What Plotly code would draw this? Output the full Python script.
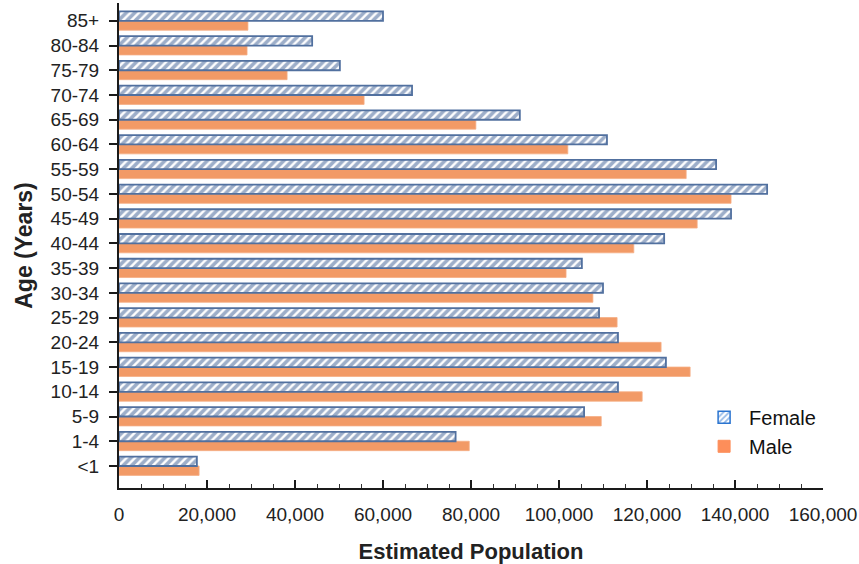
import plotly.graph_objects as go

age_groups = ["<1", "1-4", "5-9", "10-14", "15-19", "20-24", "25-29", "30-34", "35-39",
              "40-44", "45-49", "50-54", "55-59", "60-64", "65-69", "70-74", "75-79", "80-84", "85+"]
female = [17700, 76500, 105700, 113400, 124300, 113400, 109100, 110000, 105200,
          123900, 139100, 147300, 135700, 110900, 91100, 66600, 50200, 43900, 60000]
male = [18200, 79600, 109600, 118900, 129800, 123200, 113200, 107700, 101600,
        117000, 131400, 139100, 128900, 102000, 81100, 55700, 38200, 29100, 29300]
x_ticks = [0, 20000, 40000, 60000, 80000, 100000, 120000, 140000, 160000]

FONT = "Liberation Sans, Arial, sans-serif"

fig = go.Figure()
fig.add_trace(go.Bar(
    y=age_groups, x=male, orientation="h", name="Male", showlegend=False,
    marker=dict(color="#f29a66", line=dict(color="#f5ad84", width=0.8)),
))
fig.add_trace(go.Bar(
    y=age_groups, x=female, orientation="h", name="Female", showlegend=False,
    marker=dict(color="white", line=dict(color="#51709f", width=1.8),
                pattern=dict(shape="/", fgcolor="#3c5e94", bgcolor="white", size=6, solidity=0.6)),
))
# legend entries (on hidden overlay axes)
fig.add_trace(go.Bar(
    y=[age_groups[0]], x=[0], orientation="h", name="Female", xaxis="x2", yaxis="y2",
    legendrank=1, hoverinfo="skip",
    marker=dict(color="white", line=dict(color="#2a74d0", width=1.5),
                pattern=dict(shape="/", fgcolor="#2a74d0", bgcolor="white", size=5, solidity=0.45)),
))
fig.add_trace(go.Bar(
    y=[age_groups[0]], x=[0], orientation="h", name="Male", xaxis="x2", yaxis="y2",
    legendrank=2, hoverinfo="skip",
    marker=dict(color="#fd8e5a", line=dict(color="#fd8e5a", width=1)),
))

fig.update_layout(
    width=859, height=564,
    margin=dict(l=119, r=36, t=3, b=76, autoexpand=False),
    paper_bgcolor="white", plot_bgcolor="white",
    barmode="group", bargap=0.24, bargroupgap=0,
    font=dict(family=FONT, color="#222222", size=19),
    showlegend=True,
    legend=dict(x=0.824, y=0.186, xanchor="left", yanchor="top",
                font=dict(family=FONT, size=20, color="#111111"),
                bgcolor="rgba(0,0,0,0)", tracegroupgap=0, itemwidth=40),
    xaxis=dict(
        range=[0, 160000], tickvals=x_ticks, tickformat=",", showgrid=False, zeroline=False,
        showline=True, linecolor="#1a1a1a", linewidth=2, automargin=False,
        ticks="inside", ticklen=8, tickwidth=1.5, tickcolor="#1a1a1a",
        minor=dict(dtick=5000, ticks="inside", ticklen=4, tickwidth=1, tickcolor="#333333"),
        tickfont=dict(size=19, color="#222222"), ticklabelstandoff=8,
        title=dict(text="<b>Estimated Population</b>", font=dict(size=22, color="#222222"), standoff=22),
        fixedrange=True,
    ),
    yaxis=dict(
        categoryorder="array", categoryarray=age_groups, range=[-0.89, 18.72],
        showgrid=False, zeroline=False, automargin=False,
        showline=True, linecolor="#1a1a1a", linewidth=2,
        ticks="outside", ticklen=8, tickwidth=1.5, tickcolor="#1a1a1a",
        tickfont=dict(size=19, color="#222222"), ticklabelstandoff=6,
        title=dict(text="<b>Age (Years)</b>", font=dict(size=23, color="#222222"), standoff=12),
        fixedrange=True,
    ),
    xaxis2=dict(overlaying="x", visible=False, range=[0, 1]),
    yaxis2=dict(overlaying="y", visible=False, range=[10, 11]),
)

fig.write_html("out.html", config={"displayModeBar": False},
               post_script="document.body.style.margin='0px';document.body.style.overflow='hidden';")
